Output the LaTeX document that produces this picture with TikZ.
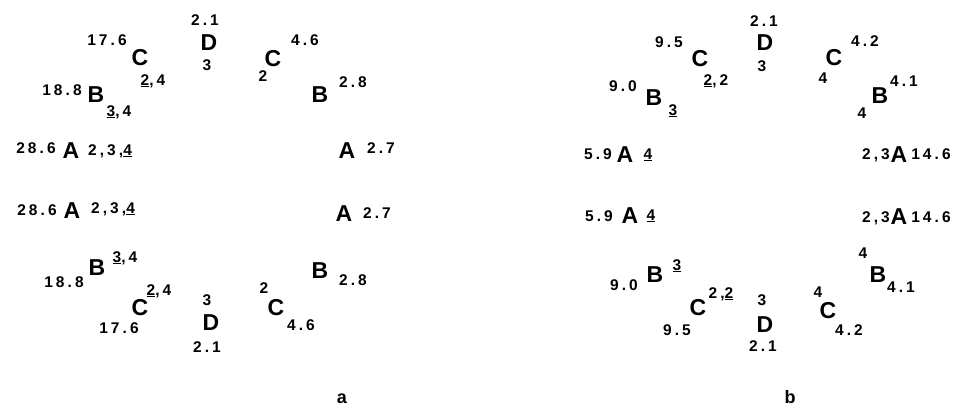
\documentclass[tikz,border=0pt]{standalone}
\usepackage{fontspec}
\setmainfont{Liberation Sans}
\newfontfamily\numf[LetterSpace=20]{Liberation Sans}
\newcommand\unl[1]{\underline{#1}}
\begin{document}
\begin{tikzpicture}[x=1pt,y=-1pt,
  lt/.style={anchor=base, inner sep=0pt, font=\fontsize{23}{23}\selectfont\bfseries},
  nm/.style={anchor=base, inner sep=0pt, font=\numf\fontsize{15.5}{15.5}\selectfont\bfseries},
  panellabel/.style={anchor=base, inner sep=0pt, font=\fontsize{18}{18}\selectfont\bfseries}]
\useasboundingbox (0,0) rectangle (956,418);
% ---------------- panel a, top half
\node[nm] (a1) at (107,45) {17.6};
\node[lt] (a2) at (140,65) {C};
\node[nm] (a3) at (153,85) {\unl{2},4};
\node[nm] (a4) at (205,25) {2.1};
\node[lt] (a5) at (209,50) {D};
\node[nm] (a6) at (207,70) {3};
\node[nm] (a7) at (62,95) {18.8};
\node[lt] (a8) at (96,102) {B};
\node[nm] (a9) at (119,116) {\unl{3},4};
\node[nm] (a10) at (305,45) {4.6};
\node[lt] (a11) at (273,66) {C};
\node[nm] (a12) at (263,81) {2};
\node[lt] (a13) at (320,102) {B};
\node[nm] (a14) at (353,87) {2.8};
\node[nm] (a15) at (36,153) {28.6};
\node[lt] (a16) at (71,158) {A};
\node[nm] (a17) at (110,155) {2,3,\unl{4}};
\node[lt] (a18) at (347,158) {A};
\node[nm] (a19) at (381,153) {2.7};
% ---------------- panel a, bottom half
\node[nm] (a20) at (37,215) {28.6};
\node[lt] (a21) at (72,218) {A};
\node[nm] (a22) at (113,213) {2,3,\unl{4}};
\node[lt] (a23) at (344,221) {A};
\node[nm] (a24) at (377,218) {2.7};
\node[nm] (a25) at (125,262) {\unl{3},4};
\node[lt] (a26) at (97,275) {B};
\node[nm] (a27) at (64,287) {18.8};
\node[nm] (a28) at (159,295) {\unl{2},4};
\node[lt] (a29) at (140,315) {C};
\node[nm] (a30) at (119,333) {17.6};
\node[nm] (a31) at (207,305) {3};
\node[lt] (a32) at (211,330) {D};
\node[nm] (a33) at (207,352) {2.1};
\node[lt] (a34) at (320,278) {B};
\node[nm] (a35) at (353,285) {2.8};
\node[nm] (a36) at (264,293) {2};
\node[lt] (a37) at (276,315) {C};
\node[nm] (a38) at (301,330) {4.6};
\node[panellabel] (la) at (342,403) {a};
% ---------------- panel b, top half
\node[nm] (b1) at (669,47) {9.5};
\node[lt] (b2) at (700,66) {C};
\node[nm] (b3) at (716,85) {\unl{2},2};
\node[nm] (b4) at (623,91) {9.0};
\node[lt] (b5) at (654,105) {B};
\node[nm] (b6) at (673,115) {\unl{3}};
\node[nm] (b7) at (764,26) {2.1};
\node[lt] (b8) at (765,50) {D};
\node[nm] (b9) at (762,71) {3};
\node[lt] (b10) at (834,65) {C};
\node[nm] (b11) at (865,46) {4.2};
\node[nm] (b12) at (823,83) {4};
\node[nm] (b13) at (904,86) {4.1};
\node[lt] (b14) at (880,103) {B};
\node[nm] (b15) at (862,118) {4};
\node[nm] (b16) at (598,159) {5.9};
\node[lt] (b17) at (625,162) {A};
\node[nm] (b18) at (648,159) {\unl{4}};
\node[nm] (b19) at (876,159) {2,3};
\node[lt] (b20) at (899,162) {A};
\node[nm] (b21) at (931,159) {14.6};
% ---------------- panel b, bottom half
\node[nm] (b22) at (599,221) {5.9};
\node[lt] (b23) at (630,223) {A};
\node[nm] (b24) at (651,220) {\unl{4}};
\node[nm] (b25) at (876,222) {2,3};
\node[lt] (b26) at (899,224) {A};
\node[nm] (b27) at (931,222) {14.6};
\node[nm] (b28) at (624,290) {9.0};
\node[lt] (b29) at (655,282) {B};
\node[nm] (b30) at (677,270) {\unl{3}};
\node[lt] (b31) at (698,315) {C};
\node[nm] (b32) at (721,298) {2,\unl{2}};
\node[nm] (b33) at (677,335) {9.5};
\node[nm] (b34) at (863,258) {4};
\node[lt] (b35) at (878,282) {B};
\node[nm] (b36) at (901,292) {4.1};
\node[nm] (b37) at (762,305) {3};
\node[lt] (b38) at (765,332) {D};
\node[nm] (b39) at (763,351) {2.1};
\node[nm] (b40) at (818,297) {4};
\node[lt] (b41) at (828,318) {C};
\node[nm] (b42) at (849,335) {4.2};
\node[panellabel] (lb) at (790,403) {b};
\end{tikzpicture}
\end{document}
